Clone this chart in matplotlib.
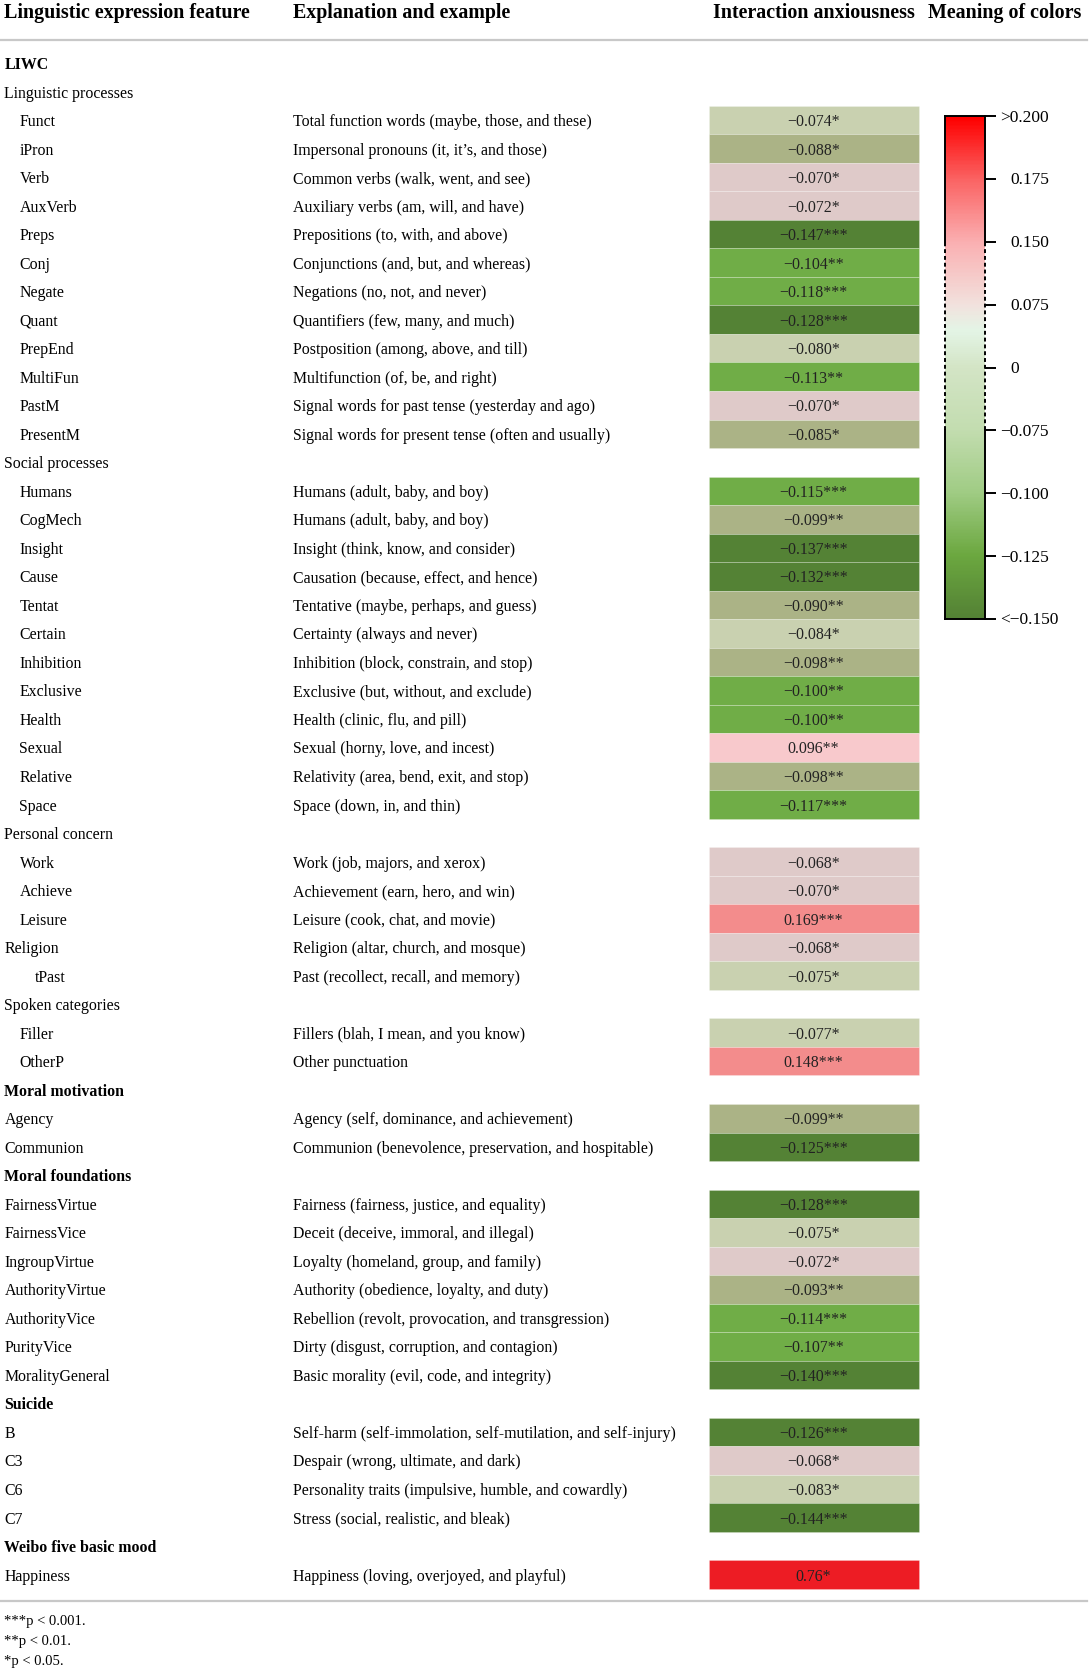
import matplotlib
matplotlib.use("Agg")
import matplotlib.pyplot as plt
from matplotlib.colors import ListedColormap, BoundaryNorm, LinearSegmentedColormap
import matplotlib.transforms as mtransforms
import numpy as np

plt.rcParams['font.family'] = ['Liberation Serif', 'DejaVu Serif']

# table rows: label, indent level, bold heading, explanation, value, stars
labels = ["LIWC", "Linguistic processes", "Funct", "iPron", "Verb", "AuxVerb", "Preps",
          "Conj", "Negate", "Quant", "PrepEnd", "MultiFun", "PastM", "PresentM",
          "Social processes", "Humans", "CogMech", "Insight", "Cause", "Tentat", "Certain",
          "Inhibition", "Exclusive", "Health", "Sexual", "Relative", "Space",
          "Personal concern", "Work", "Achieve", "Leisure", "Religion", "tPast",
          "Spoken categories", "Filler", "OtherP", "Moral motivation", "Agency", "Communion",
          "Moral foundations", "FairnessVirtue", "FairnessVice", "IngroupVirtue",
          "AuthorityVirtue", "AuthorityVice", "PurityVice", "MoralityGeneral", "Suicide",
          "B", "C3", "C6", "C7", "Weibo five basic mood", "Happiness"]

levels = [0, 0, 1, 1, 1, 1, 1, 1, 1, 1, 1, 1, 1, 1,
          0, 1, 1, 1, 1, 1, 1, 1, 1, 1, 1, 1, 1,
          0, 1, 1, 1, 0, 2,
          0, 1, 1, 0, 0, 0,
          0, 0, 0, 0, 0, 0, 0, 0, 0,
          0, 0, 0, 0, 0, 0]

bold = ["LIWC", "Moral motivation", "Moral foundations", "Suicide", "Weibo five basic mood"]

explanations = [
    "", "",
    "Total function words (maybe, those, and these)",
    "Impersonal pronouns (it, it\u2019s, and those)",
    "Common verbs (walk, went, and see)",
    "Auxiliary verbs (am, will, and have)",
    "Prepositions (to, with, and above)",
    "Conjunctions (and, but, and whereas)",
    "Negations (no, not, and never)",
    "Quantifiers (few, many, and much)",
    "Postposition (among, above, and till)",
    "Multifunction (of, be, and right)",
    "Signal words for past tense (yesterday and ago)",
    "Signal words for present tense (often and usually)",
    "",
    "Humans (adult, baby, and boy)",
    "Humans (adult, baby, and boy)",
    "Insight (think, know, and consider)",
    "Causation (because, effect, and hence)",
    "Tentative (maybe, perhaps, and guess)",
    "Certainty (always and never)",
    "Inhibition (block, constrain, and stop)",
    "Exclusive (but, without, and exclude)",
    "Health (clinic, flu, and pill)",
    "Sexual (horny, love, and incest)",
    "Relativity (area, bend, exit, and stop)",
    "Space (down, in, and thin)",
    "",
    "Work (job, majors, and xerox)",
    "Achievement (earn, hero, and win)",
    "Leisure (cook, chat, and movie)",
    "Religion (altar, church, and mosque)",
    "Past (recollect, recall, and memory)",
    "",
    "Fillers (blah, I mean, and you know)",
    "Other punctuation",
    "",
    "Agency (self, dominance, and achievement)",
    "Communion (benevolence, preservation, and hospitable)",
    "",
    "Fairness (fairness, justice, and equality)",
    "Deceit (deceive, immoral, and illegal)",
    "Loyalty (homeland, group, and family)",
    "Authority (obedience, loyalty, and duty)",
    "Rebellion (revolt, provocation, and transgression)",
    "Dirty (disgust, corruption, and contagion)",
    "Basic morality (evil, code, and integrity)",
    "",
    "Self-harm (self-immolation, self-mutilation, and self-injury)",
    "Despair (wrong, ultimate, and dark)",
    "Personality traits (impulsive, humble, and cowardly)",
    "Stress (social, realistic, and bleak)",
    "",
    "Happiness (loving, overjoyed, and playful)",
]

# interaction anxiousness, as printed ("" for heading rows)
values = ["", "", "-0.074", "-0.088", "-0.070", "-0.072", "-0.147", "-0.104", "-0.118",
          "-0.128", "-0.080", "-0.113", "-0.070", "-0.085",
          "", "-0.115", "-0.099", "-0.137", "-0.132", "-0.090", "-0.084", "-0.098",
          "-0.100", "-0.100", "0.096", "-0.098", "-0.117",
          "", "-0.068", "-0.070", "0.169", "-0.068", "-0.075",
          "", "-0.077", "0.148", "", "-0.099", "-0.125",
          "", "-0.128", "-0.075", "-0.072", "-0.093", "-0.114", "-0.107", "-0.140", "",
          "-0.126", "-0.068", "-0.083", "-0.144", "", "0.76"]

stars = ["", "", "*", "*", "*", "*", "***", "**", "***", "***", "*", "**", "*", "*",
         "", "***", "**", "***", "***", "**", "*", "**", "**", "**", "**", "**", "***",
         "", "*", "*", "***", "*", "*",
         "", "*", "***", "", "**", "***",
         "", "***", "*", "*", "**", "***", "**", "***", "",
         "***", "*", "*", "***", "", "*"]

headers = ["Linguistic expression feature", "Explanation and example",
           "Interaction anxiousness", "Meaning of colors"]
footnotes = ["***p < 0.001.", "**p < 0.01.", "*p < 0.05."]

cbar_labels = ["<\u22120.150", "\u22120.125", "\u22120.100", "\u22120.075", "0",
               "0.075", "0.150", "0.175", ">0.200"]

# discrete colours used for the cells
cell_bounds = [-1.0, -0.12, -0.0995, -0.0845, -0.0725, 0.0, 0.12, 0.5, 1.0]
cell_colors = ["#548235", "#70ad47", "#abb386", "#c9d1b0", "#dfcac9",
               "#f8c9cc", "#f38c8c", "#ed1c24"]
cell_cmap = ListedColormap(cell_colors)
cell_norm = BoundaryNorm(cell_bounds, cell_cmap.N)

# continuous gradient of the legend bar
bar_cmap = LinearSegmentedColormap.from_list("legend", [
    (0.0, (84/255, 130/255, 53/255)),
    (1/8, (108/255, 168/255, 64/255)),
    (2/8, (160/255, 204/255, 132/255)),
    (3/8, (195/255, 221/255, 176/255)),
    (4/8, (212/255, 229/255, 198/255)),
    (4.6/8, (228/255, 245/255, 230/255)),
    (5/8, (242/255, 226/255, 222/255)),
    (6/8, (251/255, 176/255, 178/255)),
    (7/8, (250/255, 100/255, 100/255)),
    (1.0, (255/255, 0, 0)),
])

W, H = 1091, 1672
fig = plt.figure(figsize=(W / 100, H / 100), dpi=100)
ax = fig.add_axes([0, 0, 1, 1])
ax.set_xlim(0, W)
ax.set_ylim(H, 0)
ax.axis("off")

row0 = 63.0
dy = 28.52
fs = 11.4
txt_dy = 2.0   # text sits a touch lower than the row centre

header_x = [4, 293, 713, 928]
for hx, h in zip(header_x, headers):
    ax.text(hx, 13, h, fontsize=14.4, fontweight="semibold", va="center", ha="left")
ax.plot([0, 1087], [40, 40], color="#c8c8c8", lw=1.6)

cell_left, cell_right = 708.5, 918.5
for i, lab in enumerate(labels):
    y = row0 + i * dy
    x = 4.5 + 15 * levels[i]
    ax.text(x, y + txt_dy, lab, fontsize=fs, va="center", ha="left",
            fontweight="bold" if lab in bold else "normal")
    if explanations[i]:
        ax.text(293, y + txt_dy, explanations[i], fontsize=fs, va="center", ha="left")
    if values[i]:
        v = float(values[i])
        ax.barh(y, cell_right - cell_left, left=cell_left, height=dy,
                color=cell_cmap(cell_norm(v)), edgecolor=(1, 1, 1, 0.25), linewidth=0.6)
        ax.text((cell_left + cell_right) / 2, y + txt_dy,
                values[i].replace("-", "\u2212") + stars[i],
                fontsize=fs, va="center", ha="center", color="#222222")

ax.plot([0, 1087], [1601, 1601], color="#c8c8c8", lw=1.6)
for k, fn in enumerate(footnotes):
    ax.text(4, 1621 + k * 20.5, fn, fontsize=10.5, va="center", ha="left")

# legend colour bar
cb_l, cb_r, cb_t, cb_b = 945, 984.5, 116, 619
cax = fig.add_axes([cb_l / W, 1 - cb_b / H, (cb_r - cb_l) / W, (cb_b - cb_t) / H])
grad = np.linspace(0, 1, 400).reshape(-1, 1)
cax.imshow(grad, cmap=bar_cmap, aspect="auto", origin="lower", extent=[0, 1, 0, 8])
cax.set_xlim(0, 1)
cax.set_ylim(0, 8)
for s in cax.spines.values():
    s.set_visible(False)
cax.set_xticks([])
cax.yaxis.tick_right()
cax.set_yticks(range(9))
cax.set_yticklabels([])
cax.tick_params(axis="y", length=8, width=1.4)
lab_trans = cax.get_yaxis_transform()
for k, lab in enumerate(cbar_labels):
    # signed labels start nearer the bar, plain numbers a little further right
    off = 0.0 if lab[0] in "<>\u2212" else 10.0
    t = lab_trans + mtransforms.ScaledTranslation((16 + off) / 100, -1.5 / 100,
                                                  fig.dpi_scale_trans)
    cax.text(1.0, k, lab, transform=t, fontsize=12.5, va="center", ha="left")
for xe in (0, 1):
    cax.plot([xe, xe], [0, 3], color="black", lw=1.4, clip_on=False)
    cax.plot([xe, xe], [3, 6], color="black", lw=1.4, ls=(0, (2, 1.5)), clip_on=False)
    cax.plot([xe, xe], [6, 8], color="black", lw=1.4, clip_on=False)
cax.plot([0, 1], [0, 0], color="black", lw=1.4, clip_on=False)
cax.plot([0, 1], [8, 8], color="black", lw=1.4, clip_on=False)

fig.savefig("out.png", dpi=100)
